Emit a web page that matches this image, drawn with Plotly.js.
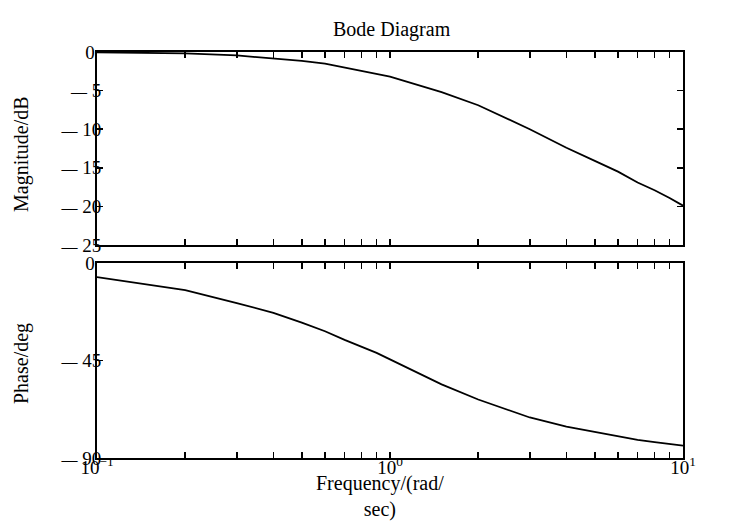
<!DOCTYPE html>
<html>
<head>
<meta charset="utf-8">
<script src="https://cdn.plot.ly/plotly-3.0.1.min.js"></script>
<style>
html,body{margin:0;padding:0;background:#fff;}
#chart{width:736px;height:530px;}
</style>
</head>
<body>
<div id="chart"></div>
<script>
// Frequency samples (rad/s) and values
var freq = [0.1,0.2,0.3,0.4,0.5,0.6,0.7,0.8,0.9,1,1.5,2,3,4,5,6,7,8,9,10];
var magDb = [-0.05,-0.17,-0.45,-0.8,-1.15,-1.5,-2.0,-2.4,-2.8,-3.2,-5.2,-6.9,-10.0,-12.4,-14.1,-15.5,-16.9,-17.9,-18.9,-19.9];
var phaseDeg = [-6.5,-12.5,-18.5,-23,-27.5,-31.5,-35.5,-38.5,-41.5,-44.5,-56,-63,-71.3,-75.5,-78,-80,-81.6,-82.7,-83.5,-84.3];

// Tick definitions
var DASH = '<span style="font-size:16px">\u2014</span>';
var freqTicks = [0.1,0.2,0.3,0.4,0.5,0.6,0.7,0.8,0.9,1,2,3,4,5,6,7,8,9,10];
var freqTickText = ['10<sup>\u22121</sup>','','','','','','','','','10<sup>0</sup>','','','','','','','','','10<sup>1</sup>'];
var magTicks = [0,-5,-10,-15,-20,-25];
var magTickText = ['0\u2004', DASH+' 5', DASH+' 10', DASH+' 15', DASH+' 20', DASH+' 25'];
var phaseTicks = [0,-45,-90];
var phaseTickText = ['0\u2004', DASH+' 45', DASH+' 90'];
var phaseRightTicks = [-18,-36,-54,-72];

var FONT = 'Liberation Serif, Times New Roman, serif';

var traces = [
  {x: freq, y: magDb, xaxis:'x', yaxis:'y', type:'scatter', mode:'lines',
   line:{color:'black', width:1.8}, hoverinfo:'skip'},
  {x: freq, y: phaseDeg, xaxis:'x2', yaxis:'y2', type:'scatter', mode:'lines',
   line:{color:'black', width:1.8}, hoverinfo:'skip'}
];

function xAxis(anchor, labels){
  return {
    type:'log', range:[-1,1], domain:[0,1], anchor:anchor,
    tickmode:'array', tickvals:freqTicks, ticktext:freqTickText,
    showticklabels:labels, ticks:'inside', ticklen:6, tickwidth:1.5, tickcolor:'black',
    showline:true, linecolor:'black', linewidth:2, mirror:'ticks',
    showgrid:false, zeroline:false, ticklabelstandoff:-9,
    tickfont:{family:FONT, size:19, color:'black'}
  };
}

var layout = {
  width:736, height:530,
  margin:{l:97, r:53, t:52, b:72, pad:0},
  paper_bgcolor:'white', plot_bgcolor:'white',
  showlegend:false,
  font:{family:FONT, size:19, color:'black'},
  xaxis: xAxis('y', false),
  xaxis2: xAxis('y2', true),
  yaxis:{
    range:[-25,0], domain:[0.5246,1], anchor:'x',
    tickmode:'array', tickvals:magTicks, ticktext:magTickText,
    ticks:'inside', ticklen:6, tickwidth:1.5, tickcolor:'black',
    showline:true, linecolor:'black', linewidth:2, mirror:'ticks',
    showgrid:false, zeroline:false, ticklabelstandoff:-10,
    tickfont:{family:FONT, size:19, color:'black'}
  },
  yaxis2:{
    range:[-90,0], domain:[0,0.4803], anchor:'x2',
    tickmode:'array', tickvals:phaseTicks, ticktext:phaseTickText,
    ticks:'inside', ticklen:6, tickwidth:1.5, tickcolor:'black',
    showline:true, linecolor:'black', linewidth:2, mirror:true,
    showgrid:false, zeroline:false, ticklabelstandoff:-10,
    tickfont:{family:FONT, size:19, color:'black'}
  },
  yaxis3:{
    range:[-90,0], overlaying:'y2', side:'right', anchor:'x2',
    tickmode:'array', tickvals:phaseRightTicks,
    ticks:'inside', ticklen:6, tickwidth:1.5, tickcolor:'black',
    showticklabels:false, showline:false, showgrid:false, zeroline:false
  },
  annotations:[
    {text:'Bode Diagram', xref:'paper', yref:'paper', x:(392-97)/586, y:(458-29.5)/406,
     xanchor:'center', yanchor:'middle', showarrow:false, font:{family:FONT, size:20, color:'black'}},
    {text:'Frequency/(rad/<br>sec)', xref:'paper', yref:'paper', x:(380-97)/586, y:(458-470)/406,
     xanchor:'center', yanchor:'top', showarrow:false, font:{family:FONT, size:20, color:'black'}},
    {text:'Magnitude/dB', xref:'paper', yref:'paper', x:(21-97)/586, y:(458-154)/406,
     xanchor:'center', yanchor:'middle', textangle:-90, showarrow:false, font:{family:FONT, size:20, color:'black'}},
    {text:'Phase/deg', xref:'paper', yref:'paper', x:(21-97)/586, y:(458-364)/406,
     xanchor:'center', yanchor:'middle', textangle:-90, showarrow:false, font:{family:FONT, size:20, color:'black'}}
  ]
};

Plotly.newPlot('chart', traces, layout, {displayModeBar:false, staticPlot:true});
</script>
</body>
</html>
